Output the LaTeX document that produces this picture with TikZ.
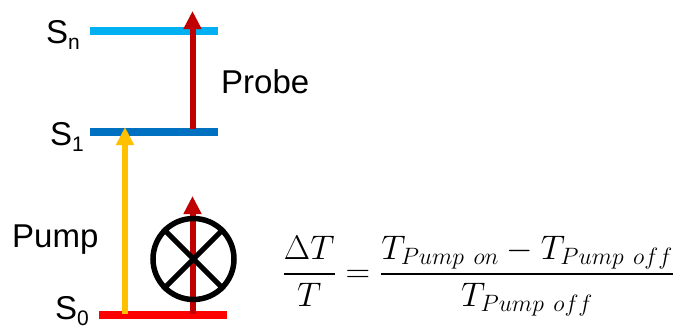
\documentclass[tikz,border=0pt]{standalone}
\usepackage{amsmath}
\usepackage{fontspec}
\setmainfont{Liberation Sans}
\usetikzlibrary{arrows.meta,positioning,calc}
\DeclareMathSizes{25}{25}{18.5}{14}
\definecolor{levelN}{HTML}{00B0F0}
\definecolor{levelOne}{HTML}{0070C0}
\definecolor{probeRed}{HTML}{C00000}
\definecolor{pumpYellow}{HTML}{FFC000}
\newcommand{\levelname}[2]{S\raisebox{-6pt}{\fontsize{21}{21}\selectfont #2}}
\tikzset{
  level/.style={rectangle,fill=#1,minimum width=128pt,minimum height=8pt,inner sep=0pt},
  beam/.style={line width=6pt,draw=#1,-{Triangle[length=18pt,width=17pt]}},
  label/.style={inner sep=0pt,anchor=base west,font=\fontsize{33}{33}\selectfont},
}
\begin{document}
\begin{tikzpicture}[x=1pt,y=-1pt]
        \useasboundingbox (0,0) rectangle (677,327);
        \node[level=levelN] (sn) at (154,31) {};
        \node[level=levelOne] (sone) at (154,132) {};
        \node[level=red] (szero) at (163,314.5) {};
        \node[label] (snlabel) at (46,43) {\levelname{S}{n}};
        \node[label] (sonelabel) at (50,145) {\levelname{S}{1}};
        \node[label] (szerolabel) at (55,319.5) {\levelname{S}{0}};
        \node[label] (probelabel) at (221,93) {Probe};
        \node[label] (pumplabel) at (12,247) {Pump};
        \coordinate (probestart) at (192.5,129);
        \coordinate (probeend) at (192.5,11);
        \coordinate (pumpstart) at (125,314);
        \coordinate (pumpend) at (125,127);
        \coordinate (gatedstart) at (192.5,314);
        \coordinate (gatedend) at (192.5,196);
        \draw[beam=probeRed] (probestart) -- (probeend);
        \draw[beam=pumpYellow] (pumpstart) -- (pumpend);
        \draw[beam=probeRed] (gatedstart) -- (gatedend);
        \node[circle,draw=black,line width=5.5pt,minimum size=81pt,inner sep=0pt] (chopper) at (193.5,259) {};
        \draw[line width=5pt] (chopper.north west) -- (chopper.south east);
        \draw[line width=5pt] (chopper.north east) -- (chopper.south west);
        \node[inner sep=0pt,anchor=center,scale=1.37,font=\fontsize{25}{25}\selectfont] (signal) at (478.5,276)
          {$\dfrac{\Delta T}{T}=\dfrac{T_{Pump\ on}-T_{Pump\ off}}{T_{Pump\ off}}$};
      \end{tikzpicture}
\end{document}
